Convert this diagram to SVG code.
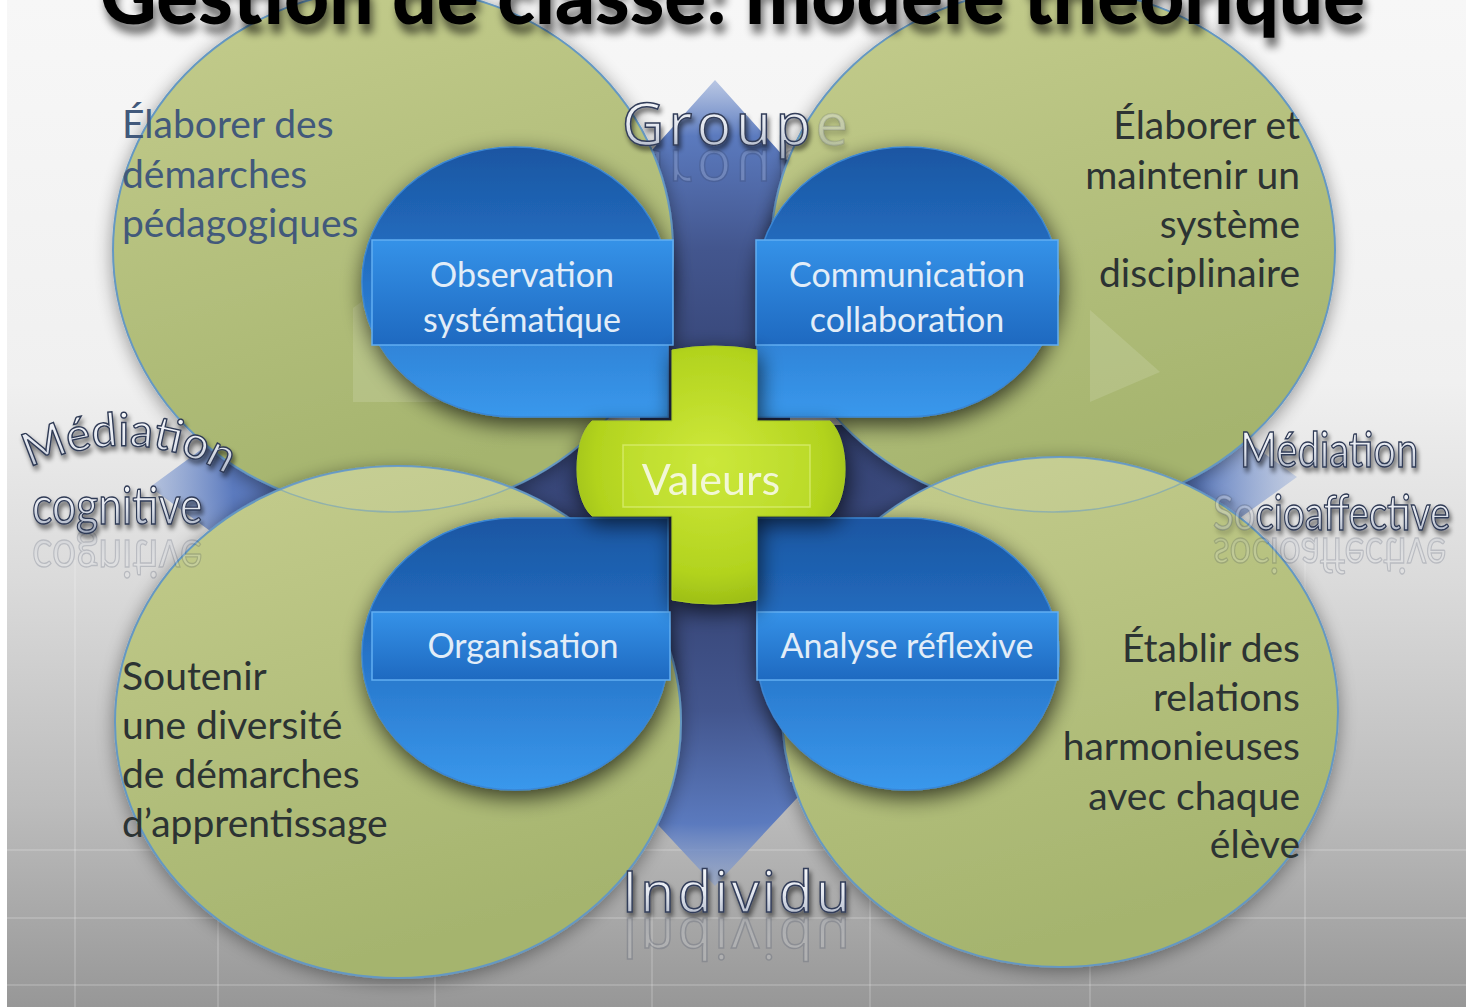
<svg xmlns="http://www.w3.org/2000/svg" width="1473" height="1007" viewBox="0 0 1473 1007">
<defs>
  <linearGradient id="bg" x1="0" y1="0" x2="0" y2="1">
    <stop offset="0" stop-color="#f7f7f7"/>
    <stop offset="0.38" stop-color="#f0f0f0"/>
    <stop offset="0.58" stop-color="#dadada"/>
    <stop offset="0.8" stop-color="#bcbcbc"/>
    <stop offset="1" stop-color="#979797"/>
  </linearGradient>
  <radialGradient id="slate" gradientUnits="userSpaceOnUse" cx="715" cy="480" r="420" gradientTransform="translate(715 480) scale(1.4 1) translate(-715 -480)">
    <stop offset="0" stop-color="#2c3763"/>
    <stop offset="0.55" stop-color="#43568e"/>
    <stop offset="0.82" stop-color="#5b7abe"/>
    <stop offset="1" stop-color="#8fa8da" stop-opacity="0.35"/>
  </radialGradient>
  <linearGradient id="green" x1="0" y1="0" x2="0.3" y2="1">
    <stop offset="0" stop-color="#c5cd8e"/>
    <stop offset="1" stop-color="#a5b46e"/>
  </linearGradient>
  <linearGradient id="node" x1="0" y1="0" x2="0" y2="1">
    <stop offset="0" stop-color="#1b56a2"/>
    <stop offset="0.45" stop-color="#2470c4"/>
    <stop offset="1" stop-color="#3a98ec"/>
  </linearGradient>
  <linearGradient id="band" x1="0" y1="0" x2="0" y2="1">
    <stop offset="0" stop-color="#3592e8"/>
    <stop offset="1" stop-color="#1e69c0"/>
  </linearGradient>
  <radialGradient id="lime" cx="0.5" cy="0.45" r="0.62">
    <stop offset="0" stop-color="#cfe93c"/>
    <stop offset="0.7" stop-color="#b2d31e"/>
    <stop offset="1" stop-color="#92b312"/>
  </radialGradient>
  <linearGradient id="chrome" x1="0" y1="0" x2="0" y2="1">
    <stop offset="0" stop-color="#ffffff"/>
    <stop offset="0.55" stop-color="#e2e6ee"/>
    <stop offset="1" stop-color="#98a2b6"/>
  </linearGradient>
  <clipPath id="clipBL"><ellipse cx="398" cy="722" rx="283" ry="256"/></clipPath>
  <clipPath id="clipBR"><ellipse cx="1060" cy="712" rx="278" ry="255"/></clipPath>
  <filter id="halo" x="-10%" y="-10%" width="120%" height="120%">
    <feGaussianBlur in="SourceAlpha" stdDeviation="9"/>
    <feOffset dx="0" dy="3"/>
    <feComponentTransfer><feFuncA type="linear" slope="0.4"/></feComponentTransfer>
    <feMerge><feMergeNode/><feMergeNode in="SourceGraphic"/></feMerge>
  </filter>
  <filter id="nshadow" x="-20%" y="-20%" width="140%" height="140%">
    <feGaussianBlur in="SourceAlpha" stdDeviation="11"/>
    <feOffset dx="2" dy="7"/>
    <feComponentTransfer><feFuncA type="linear" slope="0.7"/></feComponentTransfer>
    <feMerge><feMergeNode/><feMergeNode in="SourceGraphic"/></feMerge>
  </filter>
  <filter id="tshadow" x="-10%" y="-30%" width="120%" height="160%">
    <feGaussianBlur in="SourceAlpha" stdDeviation="2.5"/>
    <feOffset dx="2" dy="4"/>
    <feComponentTransfer><feFuncA type="linear" slope="0.55"/></feComponentTransfer>
    <feMerge><feMergeNode/><feMergeNode in="SourceGraphic"/></feMerge>
  </filter>
  <filter id="titleshadow" x="-5%" y="-50%" width="110%" height="200%">
    <feGaussianBlur in="SourceAlpha" stdDeviation="4"/>
    <feOffset dx="3" dy="9"/>
    <feComponentTransfer><feFuncA type="linear" slope="0.6"/></feComponentTransfer>
    <feMerge><feMergeNode/><feMergeNode in="SourceGraphic"/></feMerge>
  </filter>
  <style>
    .circle { fill: url(#green); stroke: #6598c2; stroke-width: 2; }
    .lens { fill: #ffffff; fill-opacity: 0.08; stroke: #6a9cc4; stroke-width: 1.5; stroke-opacity: 0.55; }
    .ctext { font-family: Lato, "Open Sans", sans-serif; font-size: 39px; fill: #2c3333; }
    .ctext.blue { fill: #42597b; }
    .nodeshape { fill: url(#node); stroke: #3a86d4; stroke-width: 1.5; }
    .band { fill: url(#band); stroke: #62aef2; stroke-width: 1.5; }
    .ntext { font-family: Lato, "Open Sans", sans-serif; font-size: 34px; fill: #e2edf8; text-anchor: middle; }
    .wa { font-family: Lato, "Open Sans", sans-serif; fill: url(#chrome); stroke: #2f3a55; stroke-width: 1.4; }
    .wa2 { font-family: "Open Sans", Lato, sans-serif; fill: url(#chrome); stroke: #333e5a; stroke-width: 1.5; }
    .refl { opacity: 0.2; }
    .grid { stroke: #ffffff; stroke-width: 2; opacity: 0.16; }
  </style>
</defs>

<!-- background -->
<rect x="0" y="0" width="1473" height="1007" fill="url(#bg)"/>
<g id="bggrid">
  <line class="grid" x1="75" y1="560" x2="75" y2="1007"/>
  <line class="grid" x1="218" y1="560" x2="218" y2="1007"/>
  <line class="grid" x1="435" y1="800" x2="435" y2="1007"/>
  <line class="grid" x1="652" y1="880" x2="652" y2="1007"/>
  <line class="grid" x1="870" y1="880" x2="870" y2="1007"/>
  <line class="grid" x1="1090" y1="800" x2="1090" y2="1007"/>
  <line class="grid" x1="1305" y1="560" x2="1305" y2="1007"/>
  <line class="grid" x1="0" y1="850" x2="1473" y2="850"/>
  <line class="grid" x1="0" y1="918" x2="1473" y2="918"/>
  <line class="grid" x1="0" y1="985" x2="1473" y2="985"/>
</g>
<rect x="0" y="0" width="7" height="1007" fill="#ffffff"/>
<rect x="1466" y="0" width="7" height="1007" fill="#ffffff"/>

<!-- connectors: four-way arrow cross -->
<g id="connectors">
  <path fill="url(#slate)" d="M715 80 L812 188 L790 188 L790 425 L1165 425 L1165 382 L1297 477 L1165 572 L1165 535 L790 535 L790 782 L812 782 L715 886 L618 782 L640 782 L640 535 L280 535 L280 582 L150 487 L280 392 L280 425 L640 425 L640 188 L618 188 Z"/>
</g>
<text class="wa2 refl" x="622" y="-150" font-size="58" textLength="226" transform="scale(1,-1)">Groupe</text>

<!-- large green circles -->
<g id="circle-tl" filter="url(#halo)"><ellipse class="circle" cx="393" cy="250" rx="280" ry="262"/></g>
<g id="circle-tr" filter="url(#halo)"><ellipse class="circle" cx="1053" cy="250" rx="282" ry="262"/></g>
<g id="circle-bl" filter="url(#halo)"><ellipse class="circle" cx="398" cy="722" rx="283" ry="256"/></g>
<g id="circle-br" filter="url(#halo)"><ellipse class="circle" cx="1060" cy="712" rx="278" ry="255"/></g>
<g id="lenses">
  <ellipse class="lens" clip-path="url(#clipBL)" cx="393" cy="250" rx="280" ry="262"/>
  <ellipse class="lens" clip-path="url(#clipBR)" cx="1053" cy="250" rx="282" ry="262"/>
</g>

<!-- faint translucent shapes -->
<g id="faint" fill="#ffffff" opacity="0.13">
  <path d="M353 308 L440 245 L440 402 L353 402 Z"/>
  <path d="M1090 310 L1160 372 L1090 402 Z"/>
</g>

<!-- circle texts -->
<g id="text-tl" class="ctext blue">
  <text x="122" y="138">Élaborer des</text>
  <text x="122" y="188">démarches</text>
  <text x="122" y="237">pédagogiques</text>
</g>
<g id="text-tr" class="ctext" text-anchor="end">
  <text x="1300" y="139">Élaborer et</text>
  <text x="1300" y="189">maintenir un</text>
  <text x="1300" y="238">système</text>
  <text x="1300" y="287">disciplinaire</text>
</g>
<g id="text-bl" class="ctext">
  <text x="122" y="690">Soutenir</text>
  <text x="122" y="739">une diversité</text>
  <text x="122" y="788">de démarches</text>
  <text x="122" y="837">d’apprentissage</text>
</g>
<g id="text-br" class="ctext" text-anchor="end">
  <text x="1300" y="662">Établir des</text>
  <text x="1300" y="711">relations</text>
  <text x="1300" y="760">harmonieuses</text>
  <text x="1300" y="810">avec chaque</text>
  <text x="1300" y="858">élève</text>
</g>

<!-- blue nodes -->
<g id="node-observation">
  <path class="nodeshape" filter="url(#nshadow)" d="M515 147 A153 135 0 0 1 668 282 L668 417 L515 417 A153 135 0 0 1 362 282 A153 135 0 0 1 515 147 Z"/>
  <rect class="band" x="372" y="240" width="301" height="105"/>
  <text class="ntext" x="522" y="287">Observation</text>
  <text class="ntext" x="522" y="332">systématique</text>
</g>
<g id="node-communication">
  <path class="nodeshape" filter="url(#nshadow)" d="M907 147 A152 135 0 0 1 1059 282 A152 135 0 0 1 907 417 L757 417 L757 282 A150 135 0 0 1 907 147 Z"/>
  <rect class="band" x="756" y="240" width="302" height="105"/>
  <text class="ntext" x="907" y="287">Communication</text>
  <text class="ntext" x="907" y="332">collaboration</text>
</g>
<g id="node-organisation">
  <path class="nodeshape" filter="url(#nshadow)" d="M668 518 L668 654 A153 136 0 0 1 515 790 A153 136 0 0 1 362 654 A153 136 0 0 1 515 518 Z"/>
  <rect class="band" x="372" y="612" width="298" height="68"/>
  <text class="ntext" x="523" y="658">Organisation</text>
</g>
<g id="node-analyse">
  <path class="nodeshape" filter="url(#nshadow)" d="M757 518 L907 518 A152 136 0 0 1 1059 654 A152 136 0 0 1 907 790 A150 136 0 0 1 757 654 Z"/>
  <rect class="band" x="757" y="612" width="301" height="68"/>
  <text class="ntext" x="907" y="658">Analyse réflexive</text>
</g>

<!-- central cross -->
<g id="node-valeurs" filter="url(#nshadow)">
  <path fill="url(#lime)" stroke="#a9cc22" stroke-width="1" d="M672 350 Q714 342 757 350 L757 421 L830 421 C850 440 850 498 830 516 L757 516 L757 600 Q714 608 672 600 L672 516 L592 516 C572 498 572 440 592 421 L672 421 Z"/>
  <rect x="623" y="445" width="187" height="62" fill="#c7e43a" fill-opacity="0.35" stroke="#dcf07a" stroke-width="1.5" stroke-opacity="0.7"/>
  <text x="711" y="495" text-anchor="middle" font-family="Lato, 'Open Sans', sans-serif" font-size="43" fill="#f2f7d6">Valeurs</text>
</g>

<!-- axis labels (word art) -->
<g id="label-groupe">
  <text class="wa2" x="622" y="145" font-size="58" textLength="226" filter="url(#tshadow)">Group<tspan fill-opacity="0.35" stroke-opacity="0.15">e</tspan></text>
</g>
<g id="label-individu">
  <text class="wa2 refl" x="622" y="-918" font-size="56" textLength="228" transform="scale(1,-1)">Individu</text>
  <text class="wa2" x="622" y="912" font-size="56" textLength="228" filter="url(#tshadow)">Individu</text>
</g>
<g id="label-mediation-cognitive">
  <path id="arcL" d="M30 468 C85 440 165 432 238 482" fill="none"/>
  <text class="wa" font-size="46" filter="url(#tshadow)"><textPath href="#arcL" textLength="205" lengthAdjust="spacingAndGlyphs">Médiation</textPath></text>
  <g transform="translate(32 524) scale(0.82 1)">
    <text class="wa refl" x="0" y="-16" font-size="52" transform="scale(1,-1)">cognitive</text>
    <text class="wa" x="0" y="0" font-size="52" filter="url(#tshadow)">cognitive</text>
  </g>
</g>
<g id="label-mediation-socioaffective">
  <g transform="translate(1240 467) scale(0.83 1)">
    <text class="wa" x="0" y="0" font-size="48" filter="url(#tshadow)">Médiation</text>
  </g>
  <g transform="translate(1213 530) scale(0.8 1)">
    <text class="wa refl" x="0" y="-8" font-size="48" transform="scale(1,-1)">socioaffective</text>
    <text class="wa" x="0" y="0" font-size="48" filter="url(#tshadow)"><tspan fill-opacity="0.3" stroke-opacity="0.25">So</tspan>cioaffective</text>
  </g>
</g>

<!-- title (cut off at the top) -->
<g id="title" filter="url(#titleshadow)">
  <text x="100" y="24" textLength="1265" lengthAdjust="spacingAndGlyphs" font-family="Lato, 'Liberation Sans', sans-serif" font-weight="900" font-size="80" fill="#000000">Gestion de classe: modèle théorique</text>
</g>
</svg>
